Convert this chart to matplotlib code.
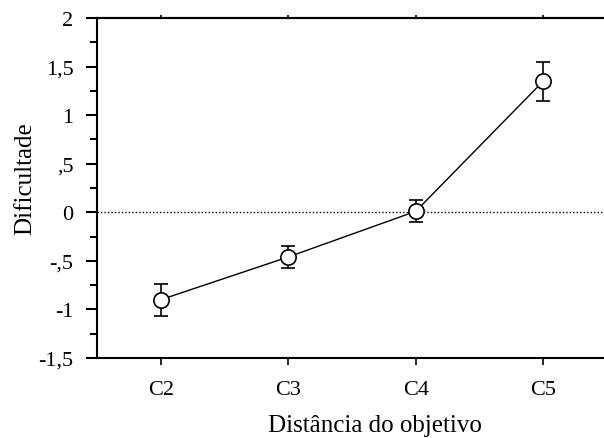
import matplotlib
matplotlib.use("Agg")
import matplotlib.pyplot as plt
from matplotlib.ticker import MultipleLocator, FixedLocator

categories = ["C2", "C3", "C4", "C5"]
values = [-0.90, -0.46, 0.01, 1.35]
errors = [0.165, 0.11, 0.115, 0.20]
ytick_vals = [2, 1.5, 1, 0.5, 0, -0.5, -1, -1.5]
ytick_labels = ["2", "1,5", "1", ",5", "0", "-,5", "-1", "-1,5"]

plt.rcParams['font.family'] = ['Liberation Serif', 'DejaVu Serif']

W, H = 604, 439
fig = plt.figure(figsize=(W / 100, H / 100), dpi=100)
left, right, top, bottom = 97, 607, 19, 359
ax = fig.add_axes([left / W, 1 - bottom / H, (right - left) / W, (bottom - top) / H])

x = list(range(len(categories)))
ax.axhline(0, color='black', linestyle=(0, (1, 1.5)), linewidth=1.0, zorder=1)
ax.errorbar(x, values, yerr=errors, color='black', linewidth=1.0,
            marker='o', markersize=11, markerfacecolor='white',
            markeredgecolor='black', markeredgewidth=1.2,
            ecolor='black', elinewidth=1.2, capsize=5, capthick=1.5, zorder=3)

ax.set_xlim(-0.5, 3.5)
ax.set_ylim(-1.5, 2)
ax.set_xticks(x)
ax.set_xticklabels(categories, fontsize=16)
ax.yaxis.set_major_locator(FixedLocator(ytick_vals))
ax.set_yticklabels(ytick_labels, fontsize=16)
ax.yaxis.set_minor_locator(MultipleLocator(0.25))

for s in ['left', 'bottom', 'top']:
    ax.spines[s].set_linewidth(1.5)
ax.spines['right'].set_visible(False)

ax.tick_params(axis='y', which='major', direction='out', length=8, width=1.5, pad=9)
ax.tick_params(axis='y', which='minor', direction='out', length=5, width=1.5)
ax.tick_params(axis='x', which='major', direction='out', length=5, width=1.2, pad=11)
sec = ax.secondary_xaxis('top')
sec.set_xticks(x)
sec.tick_params(axis='x', direction='out', length=2, width=1.2, labeltop=False)
sec.spines['top'].set_linewidth(1.5)

ax.set_xlabel("Distância do objetivo", fontsize=18)
ax.xaxis.set_label_coords(0.545, -0.165)
ax.set_ylabel("Dificultade", fontsize=18)
ax.yaxis.set_label_coords(-0.12, 0.53)

fig.savefig("out.png", dpi=100)
